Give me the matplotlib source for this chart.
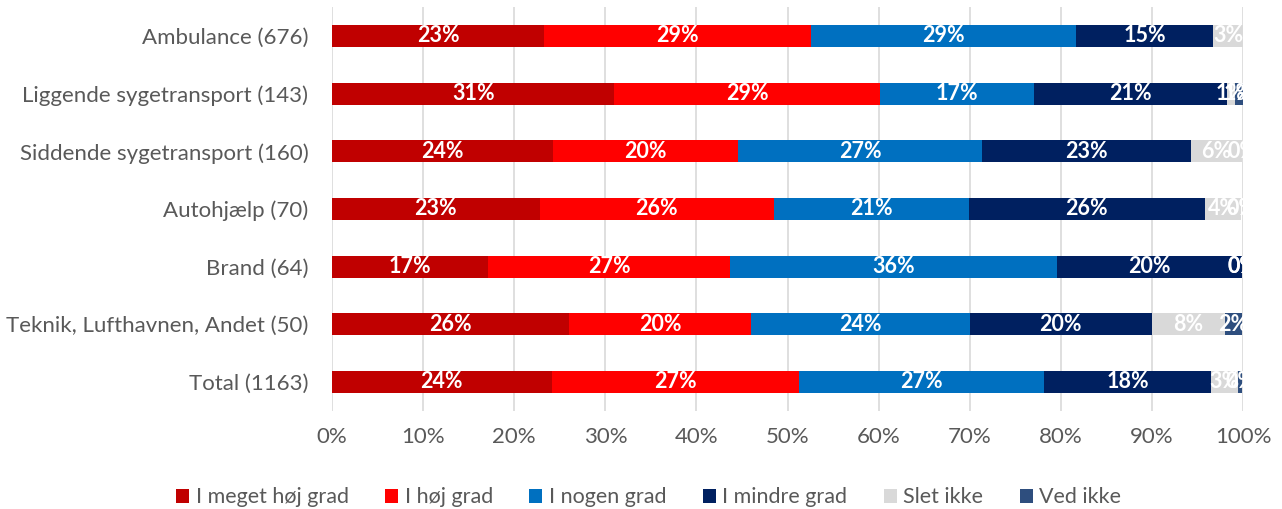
import numpy as np
import matplotlib.pyplot as plt

plt.rcParams['font.family'] = ['Lato', 'DejaVu Sans']

categories = ['Ambulance (676)', 'Liggende sygetransport (143)', 'Siddende sygetransport (160)',
              'Autohjælp (70)', 'Brand (64)', 'Teknik, Lufthavnen, Andet (50)', 'Total (1163)']
series = ['I meget høj grad', 'I høj grad', 'I nogen grad', 'I mindre grad', 'Slet ikke', 'Ved ikke']
colors = ['#C00000', '#FF0000', '#0070C0', '#002060', '#D9D9D9', '#2E4E7E']

meget_hoj = [23.3, 31.0, 24.3, 22.8, 17.1, 26.0, 24.1]
hoj = [29.3, 29.1, 20.3, 25.7, 26.6, 20.0, 27.2]
nogen = [29.1, 17.0, 26.8, 21.4, 35.9, 24.0, 26.9]
mindre = [15.0, 21.1, 22.9, 25.9, 20.3, 20.0, 18.3]
slet_ikke = [3.3, 0.9, 5.6, 4.0, 0.0, 8.0, 3.0]
ved_ikke = [None, 0.9, 0.0, 0.0, 0.0, 1.9, 0.4]

data = [meget_hoj, hoj, nogen, mindre, slet_ikke, ved_ikke]

fig = plt.figure(figsize=(12.82, 5.09), dpi=100)
ax = fig.add_axes([0.259, 0.193, 0.7106, 0.793])

y = np.arange(len(categories))
left = np.zeros(len(categories))
for name, vals, col in zip(series, data, colors):
    v = np.array([0.0 if x is None else x for x in vals])
    bars = ax.barh(y, v, left=left, height=0.38, color=col, label=name, zorder=2)
    labels = ['' if x is None else f'{round(x):.0f}%' for x in vals]
    txts = ax.bar_label(bars, labels=labels, label_type='center', color='white',
                        fontsize=15.5, fontweight='bold')
    for t in txts:
        t.set_clip_on(True)
    left += v

ax.set_xlim(0, 100)
ax.set_ylim(len(categories) - 0.5, -0.5)
ax.set_xticks(np.arange(0, 101, 10))
ax.set_xticklabels([f'{t}%' for t in range(0, 101, 10)])
ax.set_yticks(y)
ax.set_yticklabels(categories)
ax.tick_params(axis='both', length=0, labelsize=16, colors='#595959')
ax.tick_params(axis='y', pad=17)
ax.tick_params(axis='x', pad=12)
ax.grid(axis='x', color='#D9D9D9', linewidth=1.2, zorder=0)
for s in ax.spines.values():
    s.set_visible(False)

fig.legend(loc='lower center', bbox_to_anchor=(0.506, -0.035), ncol=6, frameon=False,
           fontsize=15.5, labelcolor='#595959', handlelength=0.6, handleheight=0.6,
           handletextpad=0.3, columnspacing=1.7)

fig.savefig('out.png', dpi=100)
